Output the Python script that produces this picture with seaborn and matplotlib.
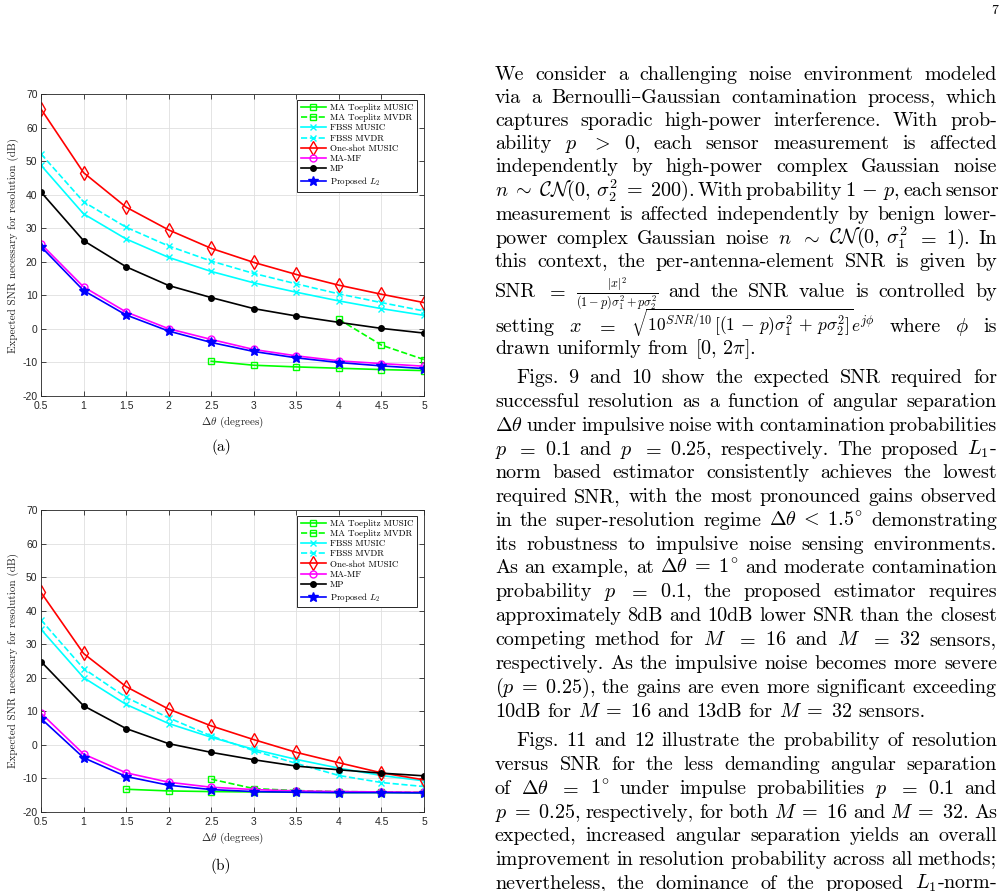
"""
Expected SNR for resolution vs angular separation, page layout with body text
"""
import numpy as np
import pandas as pd
import seaborn as sns
import matplotlib
matplotlib.use("Agg")
import matplotlib.pyplot as plt

plt.rcParams['mathtext.fontset'] = 'cm'
plt.rcParams['axes.unicode_minus'] = False
SERIF = ['cmr10', 'DejaVu Serif']
SANS = ['Liberation Sans', 'DejaVu Sans']

# angular separation in degrees
delta_theta = [0.5, 1, 1.5, 2, 2.5, 3, 3.5, 4, 4.5, 5]

labels = ["MA Toeplitz MUSIC", "MA Toeplitz MVDR", "FBSS MUSIC", "FBSS MVDR",
          "One-shot MUSIC", "MA-MF", "MP", r"Proposed $L_2$"]

# (a) p = 0.1
a_toep_music = [-9.7, -10.9, -11.4, -11.8, -12.2, -12.5]      # from 2.5
a_toep_mvdr = [2.8, -4.9, -9.2]                                # from 4
a_fbss_music = [48.8, 34.3, 26.8, 21.3, 17.1, 13.7, 10.9, 8.3, 6.0, 4.0]
a_fbss_mvdr = [52.2, 37.9, 30.3, 24.7, 20.2, 16.5, 13.4, 10.4, 7.8, 5.3]
a_oneshot = [65.6, 46.6, 36.3, 29.5, 24.0, 19.8, 16.2, 13.0, 10.3, 7.8]
a_mamf = [25.3, 12.5, 5.0, 0.0, -3.2, -6.2, -8.1, -9.6, -10.4, -11.2]
a_mp = [40.8, 26.3, 18.5, 12.9, 9.3, 6.0, 3.8, 1.9, 0.1, -1.3]
a_proposed = [24.5, 11.4, 4.1, -0.7, -4.1, -6.8, -8.7, -10.1, -11.1, -11.9]

# (b) p = 0.25
b_toep_music = [-13.3, -13.8, -14.0, -14.1, -14.2, -14.3, -14.3, -14.4]  # from 1.5
b_toep_mvdr = [-10.3, -13.1, -13.7, -14.0, -14.1, -14.2]                 # from 2.5
b_fbss_music = [34.4, 20.0, 12.0, 6.3, 2.2, -1.4, -4.4, -7.0, -9.2, -10.8]
b_fbss_mvdr = [37.2, 22.7, 14.1, 8.0, 2.6, -1.8, -5.6, -9.2, -11.3, -12.5]
b_oneshot = [45.4, 27.2, 17.3, 10.6, 5.6, 1.5, -2.3, -5.4, -8.4, -10.5]
b_mamf = [9.4, -2.8, -8.4, -11.2, -12.7, -13.4, -13.8, -14.0, -14.1, -14.2]
b_mp = [24.8, 11.6, 4.8, 0.3, -2.3, -4.5, -6.4, -7.5, -8.5, -9.3]
b_proposed = [7.8, -3.9, -9.5, -12.1, -13.4, -14.0, -14.2, -14.3, -14.3, -14.4]

styles = [
    dict(color=(0, 1, 0), ls='-', marker='s', mfc='none', ms=4.8),
    dict(color=(0, 1, 0), ls='--', marker='s', mfc='none', ms=4.8),
    dict(color=(0, 1, 1), ls='-', marker='x', mfc='none', ms=4.5),
    dict(color=(0, 1, 1), ls='--', marker='x', mfc='none', ms=4.5),
    dict(color=(1, 0, 0), ls='-', marker='d', mfc='none', ms=6.8),
    dict(color=(1, 0, 1), ls='-', marker='o', mfc='none', ms=5.0),
    dict(color=(0, 0, 0), ls='-', marker='o', mfc=(0, 0, 0), ms=4.0),
    dict(color=(0, 0, 1), ls='-', marker='*', mfc=(0, 0, 1), ms=7.0),
]

W, H = 1004, 891


def draw_panel(ax, series):
    for lab, (xs, ys), st in zip(labels, series, styles):
        df = pd.DataFrame({'x': xs, 'y': ys})
        sns.lineplot(data=df, x='x', y='y', ax=ax, label=lab, color=st['color'],
                     linestyle=st['ls'], marker=st['marker'], mfc=st['mfc'],
                     mec=st['color'], mew=1.0, ms=st['ms'], lw=1.2,
                     estimator=None, sort=False)
    ax.set_xlim(0.5, 5)
    ax.set_ylim(-20, 70)
    ax.set_xticks(delta_theta)
    ax.set_xticklabels([f"{v:g}" for v in delta_theta])
    ax.set_yticks(range(-20, 71, 10))
    ax.grid(True, color='#dfdfdf', lw=0.6)
    ax.set_axisbelow(True)
    for sp in ax.spines.values():
        sp.set_color('#262626')
        sp.set_linewidth(0.6)
    ax.tick_params(direction='in', top=True, right=True, length=3.5, width=0.6,
                   colors='#262626', labelsize=7.5)
    ax.tick_params(axis='x', pad=4)
    ax.tick_params(axis='y', pad=2.5)
    for t in ax.get_xticklabels() + ax.get_yticklabels():
        t.set_family(SANS)
    ax.set_xlabel(r"$\Delta\theta$ (degrees)", family=SERIF, fontsize=8, color='#262626')
    ax.set_ylabel("Expected SNR necessary for resolution (dB)", family=SERIF,
                  fontsize=8, color='#262626')
    ax.xaxis.set_label_coords(0.5, -0.062)
    ax.yaxis.set_label_coords(-0.058, 0.5)
    leg = ax.legend(loc='upper right', bbox_to_anchor=(0.982, 0.981), borderaxespad=0,
                    fancybox=False, framealpha=1, edgecolor='#262626',
                    prop=dict(family=SERIF, size=6.5), handlelength=2.8,
                    handletextpad=0.45, labelspacing=0.2, borderpad=0.4)
    leg.get_frame().set_linewidth(0.7)


fig = plt.figure(figsize=(W / 100, H / 100), dpi=100)

ax_a = fig.add_axes([41 / W, 1 - 395.7 / H, 383 / W, 301.4 / H])
draw_panel(ax_a, [
    (delta_theta[4:], a_toep_music), (delta_theta[7:], a_toep_mvdr),
    (delta_theta, a_fbss_music), (delta_theta, a_fbss_mvdr),
    (delta_theta, a_oneshot), (delta_theta, a_mamf),
    (delta_theta, a_mp), (delta_theta, a_proposed)])

ax_b = fig.add_axes([41 / W, 1 - 811.7 / H, 383 / W, 301.7 / H])
draw_panel(ax_b, [
    (delta_theta[2:], b_toep_music), (delta_theta[4:], b_toep_mvdr),
    (delta_theta, b_fbss_music), (delta_theta, b_fbss_mvdr),
    (delta_theta, b_oneshot), (delta_theta, b_mamf),
    (delta_theta, b_mp), (delta_theta, b_proposed)])

fig.text(221 / W, 1 - 447 / H, "(a)", family=SERIF, fontsize=11, ha='center', va='center')
fig.text(221 / W, 1 - 866 / H, "(b)", family=SERIF, fontsize=11, ha='center', va='center')
fig.text(998 / W, 1 - 14 / H, "7", family=SERIF, fontsize=10, ha='right', va='baseline')

# body text: (baseline y px, text, indent, justify)
body = [
    (80, "We consider a challenging noise environment modeled", False, True),
    (103, "via a Bernoulli–Gaussian contamination process, which", False, True),
    (126, "captures sporadic high-power interference. With prob-", False, True),
    (149, "ability $p$ $>$ $0$, each sensor measurement is affected", False, True),
    (172, "independently by high-power complex Gaussian noise", False, True),
    (196, r"$n\;\sim\;\mathcal{CN}(0,\,\sigma_2^2\;=\;200)$. With probability $1\,-\,p$, each sensor", False, True),
    (220, "measurement is affected independently by benign lower-", False, True),
    (244, r"power complex Gaussian noise $n$ $\sim$ $\mathcal{CN}(0,\,\sigma_1^2$ $=$ $1)$. In", False, True),
    (267, "this context, the per-antenna-element SNR is given by", False, True),
    (297, r"SNR $=$ $\frac{|x|^2}{(1-p)\sigma_1^2+p\sigma_2^2}$ and the SNR value is controlled by", False, True),
    (332, r"setting $x$ $=$ $\sqrt{10^{SNR/10}\,[(1\,-\,p)\sigma_1^2\,+\,p\sigma_2^2]}e^{j\phi}$ where $\phi$ is", False, True),
    (354, r"drawn uniformly from $[0,\,2\pi]$.", False, False),
    (383, "Figs. 9 and 10 show the expected SNR required for", True, True),
    (407, "successful resolution as a function of angular separation", False, True),
    (431, r"$\Delta\theta$ under impulsive noise with contamination probabilities", False, True),
    (455, r"$p$ $=$ $0.1$ and $p$ $=$ $0.25$, respectively. The proposed $L_1$-", False, True),
    (478, "norm based estimator consistently achieves the lowest", False, True),
    (502, "required SNR, with the most pronounced gains observed", False, True),
    (526, r"in the super-resolution regime $\Delta\theta\;<\;1.5^{\!\circ}$ demonstrating", False, True),
    (550, "its robustness to impulsive noise sensing environments.", False, True),
    (573, r"As an example, at $\Delta\theta\;=\;1^{\!\circ}$ and moderate contamination", False, True),
    (597, r"probability $p$ $=$ $0.1$, the proposed estimator requires", False, True),
    (621, "approximately 8dB and 10dB lower SNR than the closest", False, True),
    (645, r"competing method for $M$ $=$ $16$ and $M$ $=$ $32$ sensors,", False, True),
    (669, "respectively. As the impulsive noise becomes more severe", False, True),
    (693, r"$(p\;=\;0.25)$, the gains are even more significant exceeding", False, True),
    (717, r"10dB for $M\;=\;16$ and 13dB for $M\;=\;32$ sensors.", False, False),
    (746, "Figs. 11 and 12 illustrate the probability of resolution", True, True),
    (770, "versus SNR for the less demanding angular separation", False, True),
    (794, r"of $\Delta\theta$ $=$ $1^{\!\circ}$ under impulse probabilities $p$ $=$ $0.1$ and", False, True),
    (818, r"$p\;=\;0.25$, respectively, for both $M\;=\;16$ and $M\;=\;32$. As", False, True),
    (841, "expected, increased angular separation yields an overall", False, True),
    (865, "improvement in resolution probability across all methods;", False, True),
    (889, r"nevertheless, the dominance of the proposed $L_1$-norm-", False, True),
]

renderer = fig.canvas.get_renderer()
left, right = 495, 997
for yb, line, indent, justify in body:
    words = line.split()
    objs = []
    for w in words:
        size = 12.5 if ('\\frac' in w or '\\sqrt' in w) else 14.5
        objs.append(fig.text(0, 1 - yb / H, w, family=SERIF, fontsize=size,
                             ha='left', va='baseline'))
    widths = [o.get_window_extent(renderer).width for o in objs]
    x = left + (21 if indent else 0)
    if justify and len(words) > 1:
        gap = max((right - x - sum(widths)) / (len(words) - 1), 3.0)
    else:
        gap = 6.5
    for o, w in zip(objs, widths):
        o.set_x(x / W)
        x += w + gap

fig.savefig("out.png", dpi=100)
